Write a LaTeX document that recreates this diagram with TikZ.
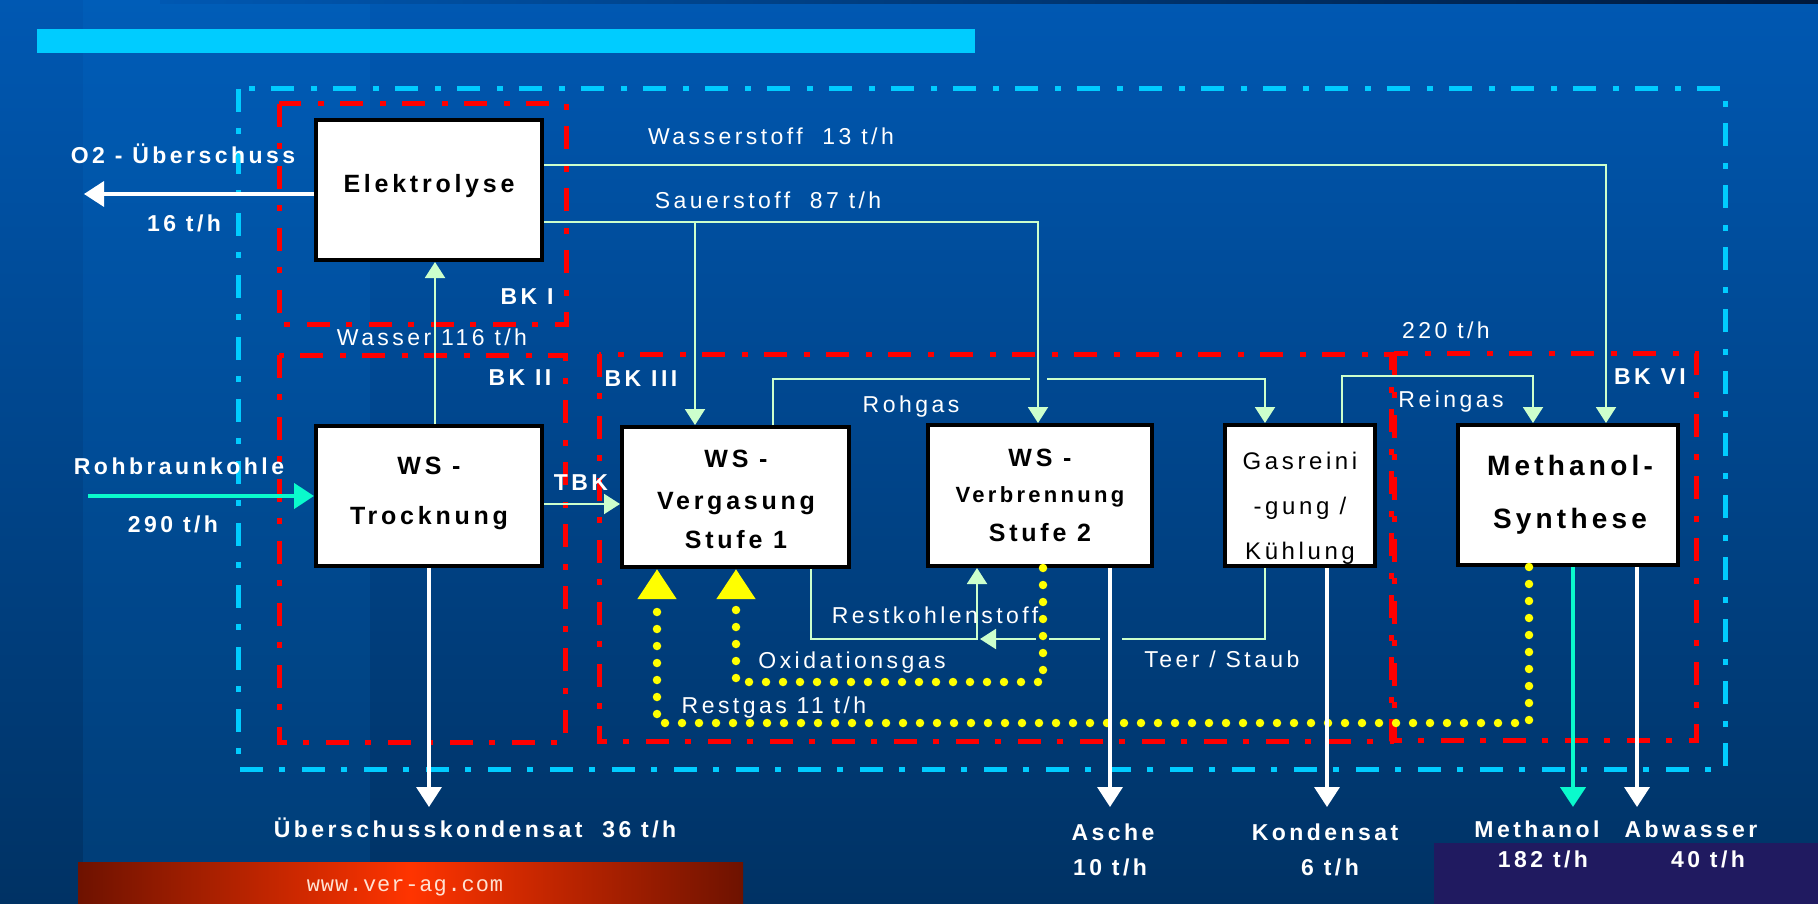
\documentclass[tikz,border=0pt]{standalone}
\usepackage{fontspec}
\setmainfont{Liberation Sans}
\newfontfamily\lsans[LetterSpace=15]{Liberation Sans}
\newfontfamily\lmono[LetterSpace=4]{Liberation Mono}
\usetikzlibrary{arrows.meta}
\newcommand\Bfnt[1]{\lsans\bfseries\fontsize{#1}{#1}\selectfont}
\newcommand\Rfnt[1]{\lsans\fontsize{#1}{#1}\selectfont}
\definecolor{bgtop}{RGB}{0,88,178}
\definecolor{bgbot}{RGB}{0,50,100}
\definecolor{bgband}{RGB}{0,125,225}
\definecolor{navy}{RGB}{0,25,60}
\definecolor{cyanbk}{RGB}{0,204,255}
\definecolor{pgreen}{RGB}{204,255,204}
\definecolor{turq}{RGB}{10,250,204}
\definecolor{ylw}{RGB}{255,255,0}
\definecolor{purp}{RGB}{32,26,96}
\definecolor{redd}{RGB}{110,18,0}
\definecolor{redl}{RGB}{255,52,0}
\definecolor{urltxt}{RGB}{255,225,210}
\begin{document}
\begin{tikzpicture}[x=1pt,y=-1pt,
 bkc/.style={draw=cyanbk,line width=5pt,dash pattern=on 23pt off 16pt on 6pt off 17pt},
 bkr/.style={bkc,draw=red},
 box/.style={draw=black,line width=4pt,fill=white,inner sep=0pt},
 lab/.style={text=white,inner sep=0pt,text depth=0pt,text height=16.5pt,font=\Rfnt{23}},
 blab/.style={lab,font=\Bfnt{23}},
 btx/.style={text=black,inner sep=0pt,text depth=0pt,text height=18pt,font=\Bfnt{25}},
 rtx/.style={btx,text height=17.2pt,font=\Rfnt{24}},
 lg/.style={draw=pgreen,line width=2pt},
 lga/.style={lg,-{Triangle[length=16pt,width=20pt]}},
 wa/.style={draw=white,line width=3.5pt,-{Triangle[length=20pt,width=25pt]}},
 ta/.style={wa,draw=turq,line width=4.5pt},
 ydot/.style={draw=ylw,line width=8.5pt,line cap=round,dash pattern=on 0pt off 17pt,-{Triangle[length=30pt,width=37pt]}},
]
\useasboundingbox (0,0) rectangle (1818,904);
% background
\shade[top color=bgtop,bottom color=bgbot] (0,0) rectangle (1818,904);
\fill[bgband,opacity=0.14] (83,0) rectangle (370,904);
\shade[left color=bgtop,right color=navy] (160,0) rectangle (1818,4);
\fill[purp] (1434,843) rectangle (1818,904);
\shade[left color=redd,right color=redd,middle color=redl] (78,862) rectangle (743,904);
\node[inner sep=0pt,text=urltxt,font=\lmono\fontsize{22}{22}\selectfont] (url) at (405,888) {www.ver-ag.com};
% title bar
\fill[cyanbk] (37,29) rectangle (975,53);
% system boundaries
\draw[bkc] (238,89) rectangle (1725,769);
\draw[bkr] (279,104) rectangle (566,324);
\draw[bkr] (279,355) rectangle (565,742);
\draw[bkr] (599,354) rectangle (1391,741);
\draw[bkr] (1394,353) rectangle (1696,740);
% boxes
\node[box,minimum width=226pt,minimum height=140pt] (elek) at (429,190) {};
\node[box,minimum width=226pt,minimum height=140pt] (troc) at (429,496) {};
\node[box,minimum width=227pt,minimum height=140pt] (verg) at (735.5,497) {};
\node[box,minimum width=224pt,minimum height=141pt] (verb) at (1040,495.5) {};
\node[box,minimum width=150pt,minimum height=141pt] (gas) at (1300,495.5) {};
\node[box,minimum width=220pt,minimum height=140pt] (meth) at (1568,495) {};
% coordinates of free ends
\coordinate (o2) at (84,194);
\coordinate (rbk) at (88,496);
\coordinate (kond) at (429,807);
\coordinate (asche) at (1110,807);
\coordinate (kon2) at (1327,807);
\coordinate (meoh) at (1573,807);
\coordinate (abw) at (1637,807);
% light green connectors
\draw[lga] (troc.north -| 435,0) -- (elek.south -| 435,0);
\draw[lga] (elek.east |- 0,165) -| (meth.north -| 1606,0);
\draw[lga] (elek.east |- 0,222) -| (verb.north -| 1038,0);
\draw[lga] (695,222) -- (verg.north -| 695,0);
\draw[lga] (troc.east |- 0,504) -- (verg.west |- 0,504);
\draw[lg] (verg.north -| 773,0) |- (1030,379);
\draw[lga] (1047,379) -| (gas.north -| 1265,0);
\draw[lga] (gas.north -| 1342,0) |- (1533,376) -- (meth.north -| 1533,0);
\draw[lga] (verg.south -| 811,0) |- (977,639) -- (verb.south -| 977,0);
\draw[lg] (gas.south -| 1265,0) |- (1122,639);
\draw[lg] (1100,639) -- (1049,639);
\draw[lga] (1036,639) -- (980,639);
% yellow dotted
\draw[ydot] (meth.south -| 1529,0) |- (657,723) -- (verg.south -| 657,0);
\draw[ydot] (verb.south -| 1043,0) |- (736,682) -- (verg.south -| 736,0);
% thick arrows
\draw[wa] (elek.west |- o2) -- (o2);
\draw[ta] (rbk) -- (troc.west |- rbk);
\draw[wa] (troc.south) -- (kond);
\draw[wa] (verb.south -| asche) -- (asche);
\draw[wa] (gas.south -| kon2) -- (kon2);
\draw[ta] (meth.south -| meoh) -- (meoh);
\draw[wa] (meth.south -| abw) -- (abw);
% box texts
\node[btx] (elekT) at (429,184) {Elektrolyse};
\node[btx] (trocT1) at (429,465) {WS -};
\node[btx] (trocT2) at (429,515) {Trocknung};
\node[btx] (vergT1) at (736,458) {WS -};
\node[btx] (vergT2) at (736,500) {Vergasung};
\node[btx] (vergT3) at (736,539) {Stufe 1};
\node[btx] (verbT1) at (1040,457) {WS -};
\node[btx,font=\Bfnt{22},text height=15.8pt] (verbT2) at (1040,495) {Verbrennung};
\node[btx] (verbT3) at (1040,532) {Stufe 2};
\node[rtx] (gasT1) at (1300,461) {Gasreini};
\node[rtx] (gasT2) at (1300,506) {-gung /};
\node[rtx] (gasT3) at (1300,551) {Kühlung};
\node[btx,font=\Bfnt{28},text height=20pt] (methT1) at (1570,465) {Methanol-};
\node[btx,font=\Bfnt{28},text height=20pt] (methT2) at (1570,518) {Synthese};
% labels
\node[blab] (l1) at (183,155) {O2 - Überschuss};
\node[blab] (l2) at (184,223) {16 t/h};
\node[blab] (l3) at (527,296) {BK I};
\node[lab] (l4) at (432,337) {Wasser 116 t/h};
\node[blab] (l5) at (520,377) {BK II};
\node[blab] (l6) at (641,378) {BK III};
\node[blab] (l7) at (1650,376) {BK VI};
\node[blab] (l8) at (179,466) {Rohbraunkohle};
\node[blab] (l9) at (173,524) {290 t/h};
\node[blab] (l10) at (581,482) {TBK};
\node[lab] (l11) at (771,136) {Wasserstoff~~13 t/h};
\node[lab] (l12) at (768,200) {Sauerstoff~~87 t/h};
\node[lab] (l13) at (1446,330) {220 t/h};
\node[lab] (l14) at (911,404) {Rohgas};
\node[lab] (l15) at (1451,399) {Reingas};
\node[lab] (l16) at (935,615) {Restkohlenstoff};
\node[lab] (l17) at (852,660) {Oxidationsgas};
\node[lab] (l18) at (1222,659) {Teer / Staub};
\node[lab] (l19) at (774,705) {Restgas 11 t/h};
\node[blab] (l20) at (475,829) {Überschusskondensat~~36 t/h};
\node[blab] (l21) at (1113,832) {Asche};
\node[blab] (l22) at (1110,867) {10 t/h};
\node[blab] (l23) at (1325,832) {Kondensat};
\node[blab] (l24) at (1330,867) {6 t/h};
\node[blab] (l25) at (1537,829) {Methanol};
\node[blab] (l26) at (1543,859) {182 t/h};
\node[blab] (l27) at (1691,829) {Abwasser};
\node[blab] (l28) at (1708,859) {40 t/h};
\end{tikzpicture}
\end{document}
